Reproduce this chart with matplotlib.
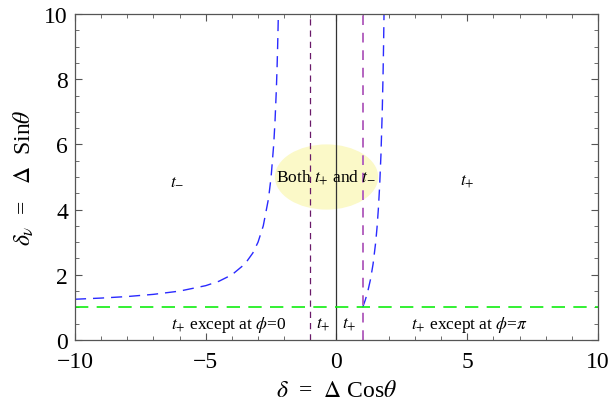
import matplotlib.pyplot as plt
from matplotlib.patches import Ellipse
from matplotlib.ticker import MultipleLocator

plt.rcParams['font.family'] = ['Liberation Serif', 'DejaVu Serif']
plt.rcParams['mathtext.fontset'] = 'stix'

# Courbe frontière gauche (delta < -2)
x_gauche = [-10, -9, -8, -7, -6, -5, -4.5, -4, -3.5, -3.2, -3, -2.8, -2.6, -2.5,
            -2.4, -2.35, -2.3, -2.27, -2.25, -2.222]
y_gauche = [1.25, 1.286, 1.333, 1.4, 1.5, 1.667, 1.8, 2.0, 2.333, 2.667, 3.0,
            3.5, 4.333, 5.0, 6.0, 6.714, 7.667, 8.407, 9.0, 10.0]

# Courbe frontière droite (1 < delta < 2)
x_droite = [1.0, 1.1, 1.2, 1.3, 1.4, 1.5, 1.55, 1.6, 1.65, 1.7, 1.75, 1.78, 1.8, 1.818]
y_droite = [1.0, 1.222, 1.5, 1.857, 2.333, 3.0, 3.444, 4.0, 4.714, 5.667, 7.0,
            8.091, 9.0, 10.0]

# Droites verticales et horizontale
x_verticales = [-1, 0, 1]
y_horizontale = 1

# Zone elliptique centrale
ellipse_centre = (-0.38, 5.0)
ellipse_largeur = 3.95
ellipse_hauteur = 2.0

# Étiquettes des régions
etiquettes = ['$t_{-}$', 'Both $t_{+}$ and $t_{-}$', '$t_{+}$',
              '$t_{+}$ except at $\\phi$=0', '$t_{+}$', '$t_{+}$',
              '$t_{+}$ except at $\\phi$=$\\pi$']
etiquettes_x = [-6.1, -0.4, 5.0, -4.1, -0.5, 0.5, 5.1]
etiquettes_y = [4.9, 5.0, 4.9, 0.5, 0.5, 0.5, 0.5]

fig = plt.figure(figsize=(6.13, 4.10), dpi=100)
ax = fig.add_axes([0.1223, 0.1683, 0.8532, 0.7951])

# Ellipse jaune pâle
ax.add_patch(Ellipse(ellipse_centre, ellipse_largeur, ellipse_hauteur,
                     facecolor='#fbf9c8', edgecolor='none', zorder=1))

# Courbes et droites
ax.plot(x_gauche, y_gauche, color='#2a2aff', lw=1.0, dashes=(8, 5), zorder=2)
ax.plot(x_droite, y_droite, color='#2a2aff', lw=1.0, dashes=(8, 5), zorder=2)
ax.axvline(x_verticales[0], color='#6a1a6a', lw=0.9, dashes=(5, 4), zorder=2)
ax.axvline(x_verticales[1], color='#333333', lw=0.9, zorder=2)
ax.axvline(x_verticales[2], color='#b464c0', lw=1.4, dashes=(5, 4), zorder=2)
ax.axhline(y_horizontale, color='#11ee11', lw=1.2, dashes=(8, 5), zorder=2)

# Textes
for texte, tx, ty in zip(etiquettes, etiquettes_x, etiquettes_y):
    ax.text(tx, ty, texte, ha='center', va='center', fontsize=12.5, zorder=3)

ax.set_xlim(-10, 10)
ax.set_ylim(0, 10)
ax.xaxis.set_major_locator(MultipleLocator(5))
ax.xaxis.set_minor_locator(MultipleLocator(1))
ax.yaxis.set_major_locator(MultipleLocator(2))
ax.yaxis.set_minor_locator(MultipleLocator(0.5))
ax.tick_params(which='both', direction='in', top=True, right=True,
               labelsize=17, color='#555555')
ax.tick_params(axis='x', pad=8)
ax.tick_params(axis='y', pad=5)
ax.tick_params(which='major', length=5, width=0.8)
ax.tick_params(which='minor', length=3, width=0.6)
for spine in ax.spines.values():
    spine.set_color('#555555')
    spine.set_linewidth(0.9)

ax.set_xlabel('$\\delta$  =  $\\Delta$ Cos$\\theta$', fontsize=17, labelpad=6)
ax.set_ylabel('$\\delta_{\\nu}$  =   $\\Delta$  Sin$\\theta$', fontsize=17, labelpad=6)

fig.savefig('out.png', dpi=100)
